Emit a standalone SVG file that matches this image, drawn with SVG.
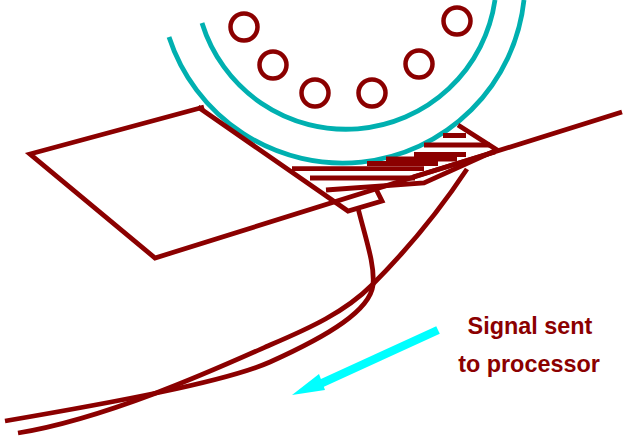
<svg xmlns="http://www.w3.org/2000/svg" width="628" height="438" viewBox="0 0 628 438">
<style>
.r{fill:none;stroke:#8b0000;stroke-width:4.8}
.o{fill:none;stroke:#8b0000;stroke-width:4.5}
.h{fill:none;stroke:#8b0000;stroke-width:4.8}
.c{fill:none;stroke:#00b0b0;stroke-width:4.8}
.t{font-family:"Liberation Sans",Arial,sans-serif;font-weight:bold;font-size:23.4px;fill:#8b0000;text-anchor:middle}
</style>
<g id="drum">
<path class="c" d="M202 23A150.600 150.600 0 0 0 495 0"/>
<path class="c" d="M169 37A182.500 182.500 0 0 0 524 0"/>
<circle class="o" cx="244" cy="27" r="13.5"/>
<circle class="o" cx="273" cy="65" r="13.5"/>
<circle class="o" cx="315" cy="93" r="13.5"/>
<circle class="o" cx="372" cy="93" r="13.5"/>
<circle class="o" cx="419" cy="64" r="13.5"/>
<circle class="o" cx="457" cy="21" r="13.5"/>
</g>
<g id="hatch">
<path class="h" d="M443 135.500H466M424 145H490M414 154.500H466M386 159H457M367 163.500H438M292 168.700H424M310 178H415"/>
</g>
<g id="plate">
<path class="r" d="M622 112L155 258L30 154L204 107"/>
<path class="r" d="M198 107L348 211L382 201L376 189"/>
<path class="r" d="M458 125L497 150L424 183L326 190"/>
<path class="r" d="M413 177L495 152"/>
</g>
<g id="connectors">
<path class="r" d="M358 208C366 240 375 265 373 285C370 310 330 335 270 362C225 382 110 403 5 421"/>
<path class="r" d="M467 169C430 225 395 262 372 285C345 312 310 328 270 345C225 365 110 418 18 433"/>
<path d="M438 330L320 384" fill="none" stroke="#00ffff" stroke-width="8.500"/>
<path d="M319 374L325 390L292 395Z" fill="#00ffff"/>
</g>
<g id="label">
<text class="t" x="530" y="334">Signal sent</text>
<text class="t" x="529" y="372">to processor</text>
</g>
</svg>
